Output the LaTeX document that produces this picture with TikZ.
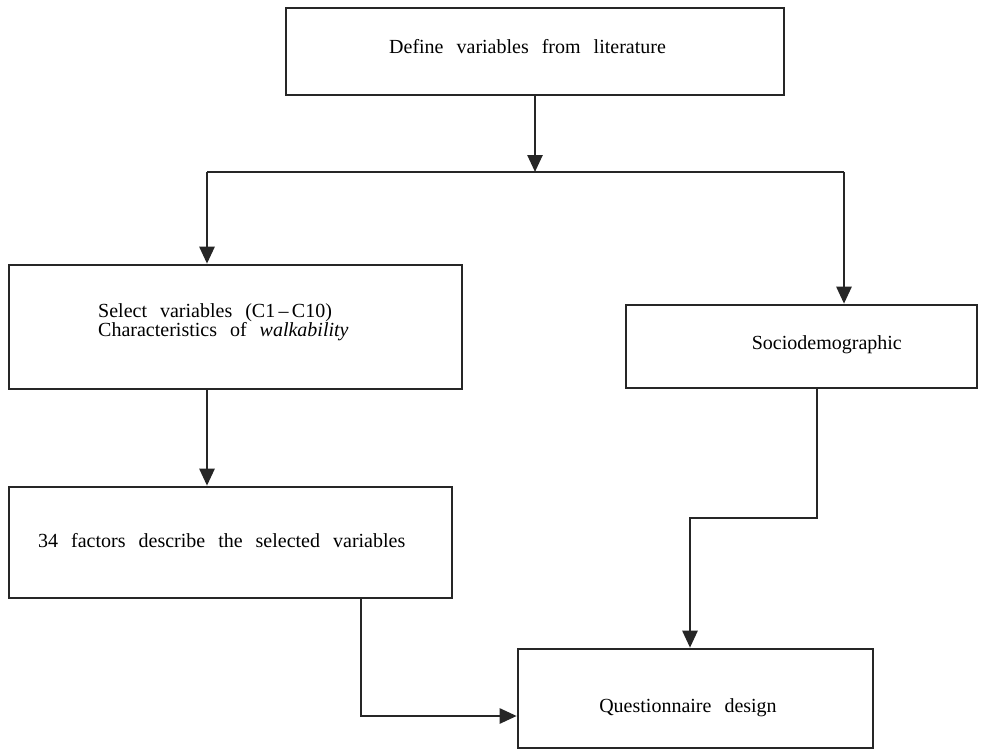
\documentclass[tikz,border=0pt]{standalone}
\usepackage{fontspec}
\setmainfont{Liberation Serif}[WordSpace=2.6]
\usetikzlibrary{arrows.meta}
\tikzset{
  boxnode/.style={draw=black!85,line width=2.6pt,inner sep=0pt},
  txt/.style={inner sep=0pt,font=\fontsize{20}{19}\selectfont},
  conn/.style={draw=black!85,line width=2.6pt,line join=miter},
  arr/.style={conn,-{Triangle[width=15pt,length=17pt]}}
}
\begin{document}
\begin{tikzpicture}[x=1pt,y=-1pt]
\useasboundingbox (0,0) rectangle (982,752);
% boxes
\node[boxnode,minimum width=498pt,minimum height=87pt] (b1) at (535,51.5) {};
\node[boxnode,minimum width=453pt,minimum height=124pt] (b2) at (235.5,327) {};
\node[boxnode,minimum width=351pt,minimum height=83pt] (b3) at (801.5,346.5) {};
\node[boxnode,minimum width=443pt,minimum height=111pt] (b4) at (230.5,542.5) {};
\node[boxnode,minimum width=355pt,minimum height=99pt] (b5) at (695.5,698.5) {};
% texts
\node[txt,anchor=base west] (t1) at (389,54) {Define variables from literature};
\node[txt,anchor=base west] (t2a) at (98,317) {Select variables (C1\,--\,C10)};
\node[txt,anchor=base west] (t2b) at (98,336) {Characteristics of \textit{walkability}};
\node[txt,anchor=base east] (t3) at (902,349) {Sociodemographic};
\node[txt,anchor=base west] (t4) at (38,547) {34 factors describe the selected variables};
\node[txt,anchor=base] (t5) at (688,712) {Questionnaire design};
% connector points
\coordinate (j) at (535,172);
\coordinate (jl) at (207,172);
\coordinate (jr) at (844,172);
\coordinate (s3) at (817,388);
\coordinate (k3) at (817,518);
\coordinate (k5) at (690,518);
\coordinate (s4) at (361,598);
\coordinate (k4) at (361,716);
% connectors
\draw[arr] (b1.south) -- (j);
\draw[conn] (jl) -- (jr);
\draw[arr] (jl) -- (jl |- b2.north);
\draw[arr] (jr) -- (jr |- b3.north);
\draw[arr] (jl |- b2.south) -- (jl |- b4.north);
\draw[arr] (s3 |- b3.south) -- (k3) -- (k5) -- (k5 |- b5.north);
\draw[arr] (s4 |- b4.south) -- (k4) -- (k4 -| b5.west);
\end{tikzpicture}
\end{document}
